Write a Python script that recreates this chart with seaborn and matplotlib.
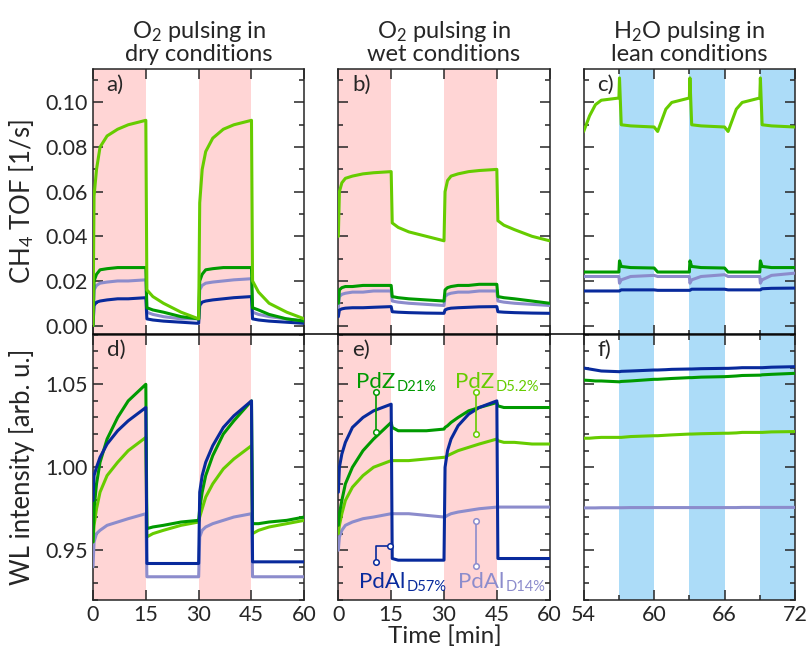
import matplotlib
matplotlib.use("Agg")
import matplotlib.pyplot as plt
from matplotlib.lines import Line2D
from matplotlib.ticker import MultipleLocator
import seaborn as sns

# time knots [min] of the O2 pulsing runs (panels a, b, d, e)
t_o2 = [0, 0.3, 1, 2, 4, 7, 10, 15, 15.3, 17, 20, 25, 30,
        30.3, 31, 32, 34, 37, 40, 45, 45.3, 47, 50, 55, 60]
# time knots [min] of the H2O pulsing run (panels c, f)
t_h2o = [54, 54.5, 55, 55.5, 57, 57.05, 57.2, 58, 60, 60.3, 61, 61.5, 63,
         63.05, 63.2, 64, 66, 66.3, 67, 67.5, 69, 69.05, 69.2, 70, 72]

o2_pulses = [(0, 15), (30, 45)]
h2o_pulses = [(57, 60), (63, 66), (69, 72)]

# --- CH4 TOF [1/s], O2 pulsing dry (a)
tof_dry_pdz52 = [0.000, 0.058, 0.070, 0.080, 0.085, 0.088, 0.090, 0.092, 0.016, 0.013, 0.010, 0.006, 0.003,
                 0.055, 0.070, 0.078, 0.084, 0.088, 0.090, 0.092, 0.020, 0.015, 0.010, 0.006, 0.003]
tof_dry_pdz21 = [0.000, 0.020, 0.023, 0.025, 0.0255, 0.026, 0.026, 0.026, 0.008, 0.007, 0.006, 0.004, 0.003,
                 0.020, 0.023, 0.025, 0.0255, 0.026, 0.026, 0.026, 0.008, 0.007, 0.005, 0.003, 0.002]
tof_dry_pdal14 = [0.000, 0.016, 0.018, 0.019, 0.0195, 0.020, 0.020, 0.0205, 0.006, 0.005, 0.004, 0.003, 0.003,
                  0.016, 0.018, 0.019, 0.0195, 0.020, 0.0205, 0.021, 0.006, 0.005, 0.004, 0.003, 0.002]
tof_dry_pdal57 = [0.000, 0.009, 0.0105, 0.011, 0.0115, 0.012, 0.012, 0.0125, 0.003, 0.0025, 0.002, 0.0015, 0.001,
                  0.009, 0.0105, 0.011, 0.0115, 0.012, 0.0125, 0.013, 0.003, 0.0025, 0.002, 0.0015, 0.001]

# --- CH4 TOF [1/s], O2 pulsing wet (b)
tof_wet_pdz52 = [0.040, 0.060, 0.064, 0.066, 0.067, 0.068, 0.0685, 0.069, 0.046, 0.044, 0.042, 0.040, 0.038,
                 0.060, 0.065, 0.067, 0.068, 0.069, 0.0695, 0.070, 0.047, 0.045, 0.043, 0.040, 0.038]
tof_wet_pdz21 = [0.010, 0.016, 0.017, 0.0175, 0.0175, 0.018, 0.018, 0.018, 0.013, 0.0125, 0.012, 0.0115, 0.011,
                 0.016, 0.017, 0.0175, 0.018, 0.018, 0.0185, 0.0185, 0.013, 0.0125, 0.012, 0.011, 0.010]
tof_wet_pdal14 = [0.008, 0.013, 0.014, 0.0145, 0.015, 0.015, 0.0155, 0.0155, 0.011, 0.0105, 0.010, 0.0095, 0.009,
                  0.013, 0.014, 0.0145, 0.015, 0.015, 0.0155, 0.0155, 0.011, 0.0105, 0.010, 0.0095, 0.009]
tof_wet_pdal57 = [0.004, 0.007, 0.0075, 0.0078, 0.008, 0.008, 0.0082, 0.0085, 0.0062, 0.006, 0.0058, 0.0056, 0.0055,
                  0.007, 0.0075, 0.0078, 0.008, 0.0082, 0.0084, 0.0085, 0.0062, 0.006, 0.0058, 0.0056, 0.0055]

# --- CH4 TOF [1/s], H2O pulsing lean (c)
tof_lean_pdz52 = [0.087, 0.094, 0.099, 0.101, 0.102, 0.111, 0.090, 0.0895, 0.089, 0.087, 0.097, 0.100, 0.102,
                  0.111, 0.090, 0.0895, 0.089, 0.087, 0.097, 0.100, 0.102, 0.111, 0.090, 0.0895, 0.089]
tof_lean_pdz21 = [0.024, 0.024, 0.024, 0.024, 0.024, 0.029, 0.0265, 0.026, 0.0258, 0.024, 0.024, 0.024, 0.024,
                  0.029, 0.0265, 0.026, 0.0258, 0.024, 0.024, 0.024, 0.024, 0.029, 0.0265, 0.026, 0.026]
tof_lean_pdal14 = [0.022, 0.022, 0.022, 0.022, 0.022, 0.019, 0.0205, 0.022, 0.0225, 0.022, 0.022, 0.022, 0.022,
                   0.019, 0.0205, 0.022, 0.0228, 0.022, 0.022, 0.022, 0.022, 0.019, 0.0205, 0.0225, 0.0235]
tof_lean_pdal57 = [0.0155, 0.0155, 0.0155, 0.0155, 0.0155, 0.0155, 0.016, 0.016, 0.016, 0.0158, 0.0158, 0.0158, 0.0158,
                   0.0158, 0.0163, 0.0163, 0.0163, 0.016, 0.016, 0.016, 0.016, 0.016, 0.0165, 0.0167, 0.0168]

# --- WL intensity [arb. u.], O2 pulsing dry (d)
wl_dry_pdz52 = [0.955, 0.965, 0.975, 0.985, 0.995, 1.003, 1.010, 1.018, 0.958, 0.960, 0.962, 0.965, 0.967,
                0.970, 0.975, 0.982, 0.990, 0.999, 1.005, 1.013, 0.960, 0.962, 0.964, 0.966, 0.968]
wl_dry_pdz21 = [0.955, 0.975, 0.990, 1.003, 1.017, 1.030, 1.040, 1.050, 0.963, 0.964, 0.965, 0.967, 0.968,
                0.975, 0.985, 0.995, 1.007, 1.020, 1.028, 1.040, 0.966, 0.966, 0.967, 0.968, 0.970]
wl_dry_pdal57 = [0.980, 0.995, 1.000, 1.006, 1.014, 1.022, 1.028, 1.036, 0.942, 0.942, 0.942, 0.942, 0.942,
                 0.985, 0.995, 1.003, 1.013, 1.024, 1.031, 1.040, 0.943, 0.943, 0.943, 0.943, 0.943]
wl_dry_pdal14 = [0.940, 0.955, 0.960, 0.962, 0.965, 0.967, 0.969, 0.972, 0.934, 0.934, 0.934, 0.934, 0.934,
                 0.958, 0.962, 0.964, 0.966, 0.968, 0.970, 0.972, 0.934, 0.934, 0.934, 0.934, 0.934]

# --- WL intensity [arb. u.], O2 pulsing wet (e)
wl_wet_pdz52 = [0.960, 0.965, 0.972, 0.980, 0.988, 0.995, 1.000, 1.004, 1.004, 1.004, 1.004, 1.005, 1.006,
                1.006, 1.007, 1.008, 1.010, 1.012, 1.014, 1.017, 1.016, 1.015, 1.015, 1.014, 1.014]
wl_wet_pdz21 = [0.965, 0.972, 0.980, 0.990, 1.000, 1.010, 1.017, 1.027, 1.024, 1.022, 1.022, 1.022, 1.023,
                1.024, 1.025, 1.027, 1.030, 1.034, 1.036, 1.039, 1.037, 1.036, 1.036, 1.036, 1.036]
wl_wet_pdal57 = [0.985, 1.000, 1.008, 1.015, 1.024, 1.030, 1.034, 1.038, 0.945, 0.944, 0.944, 0.944, 0.944,
                 1.000, 1.010, 1.017, 1.025, 1.032, 1.036, 1.040, 0.945, 0.945, 0.945, 0.945, 0.945]
wl_wet_pdal14 = [0.950, 0.958, 0.962, 0.965, 0.967, 0.969, 0.970, 0.972, 0.972, 0.972, 0.972, 0.971, 0.970,
                 0.970, 0.971, 0.972, 0.973, 0.974, 0.975, 0.976, 0.976, 0.976, 0.976, 0.976, 0.976]

# --- WL intensity [arb. u.], H2O pulsing lean (f)
wl_lean_pdz52 = [1.0175, 1.0175, 1.0178, 1.018, 1.018, 1.018, 1.018, 1.0185, 1.019, 1.019, 1.0193, 1.0195, 1.020,
                 1.020, 1.020, 1.0202, 1.0205, 1.0205, 1.0207, 1.021, 1.021, 1.021, 1.021, 1.0213, 1.0215]
wl_lean_pdz21 = [1.0525, 1.0523, 1.052, 1.052, 1.0515, 1.0515, 1.0517, 1.052, 1.053, 1.053, 1.0533, 1.0535, 1.054,
                 1.054, 1.054, 1.0543, 1.0546, 1.0547, 1.055, 1.0553, 1.0555, 1.0555, 1.0557, 1.056, 1.0566]
wl_lean_pdal57 = [1.0598, 1.0592, 1.0586, 1.058, 1.0576, 1.0576, 1.0578, 1.058, 1.0586, 1.0586, 1.0588, 1.059, 1.0592,
                  1.0592, 1.0592, 1.0594, 1.0596, 1.0596, 1.0598, 1.06, 1.06, 1.06, 1.06, 1.0603, 1.0606]
wl_lean_pdal14 = [0.9755, 0.9755, 0.9755, 0.9756, 0.9756, 0.9756, 0.9756, 0.9757, 0.9757, 0.9757, 0.9757, 0.9757, 0.9757,
                  0.9757, 0.9757, 0.9757, 0.9757, 0.9757, 0.9757, 0.9758, 0.9758, 0.9758, 0.9758, 0.9758, 0.9758]

c_pdz52 = "#66cc00"
c_pdz21 = "#009a00"
c_pdal57 = "#082a9c"
c_pdal14 = "#8c8ccc"
c_o2 = "#ffd5d5"
c_h2o = "#acdcf8"

sns.set_theme(style="ticks")
plt.rcParams["font.family"] = ["Lato", "DejaVu Sans"]
plt.rcParams["mathtext.fontset"] = "custom"
plt.rcParams["mathtext.rm"] = "Lato"
plt.rcParams["mathtext.it"] = "Lato:italic"
plt.rcParams["axes.linewidth"] = 1.1

fig, axes = plt.subplots(2, 3, figsize=(8.1, 6.53), dpi=100, sharey="row",
                         gridspec_kw=dict(hspace=0, wspace=0.161))
fig.subplots_adjust(left=93 / 810, right=795 / 810, top=1 - 69 / 653, bottom=1 - 600 / 653)

panels = [
    (axes[0, 0], t_o2, [tof_dry_pdal14, tof_dry_pdal57, tof_dry_pdz21, tof_dry_pdz52], o2_pulses, c_o2, "a)"),
    (axes[0, 1], t_o2, [tof_wet_pdal14, tof_wet_pdal57, tof_wet_pdz21, tof_wet_pdz52], o2_pulses, c_o2, "b)"),
    (axes[0, 2], t_h2o, [tof_lean_pdal14, tof_lean_pdal57, tof_lean_pdz21, tof_lean_pdz52], h2o_pulses, c_h2o, "c)"),
    (axes[1, 0], t_o2, [wl_dry_pdal14, wl_dry_pdz52, wl_dry_pdz21, wl_dry_pdal57], o2_pulses, c_o2, "d)"),
    (axes[1, 1], t_o2, [wl_wet_pdal14, wl_wet_pdz52, wl_wet_pdz21, wl_wet_pdal57], o2_pulses, c_o2, "e)"),
    (axes[1, 2], t_h2o, [wl_lean_pdal14, wl_lean_pdz52, wl_lean_pdz21, wl_lean_pdal57], h2o_pulses, c_h2o, "f)"),
]
colors = {id(s): c for group, c in [
    ([tof_dry_pdz52, tof_wet_pdz52, tof_lean_pdz52, wl_dry_pdz52, wl_wet_pdz52, wl_lean_pdz52], c_pdz52),
    ([tof_dry_pdz21, tof_wet_pdz21, tof_lean_pdz21, wl_dry_pdz21, wl_wet_pdz21, wl_lean_pdz21], c_pdz21),
    ([tof_dry_pdal57, tof_wet_pdal57, tof_lean_pdal57, wl_dry_pdal57, wl_wet_pdal57, wl_lean_pdal57], c_pdal57),
    ([tof_dry_pdal14, tof_wet_pdal14, tof_lean_pdal14, wl_dry_pdal14, wl_wet_pdal14, wl_lean_pdal14], c_pdal14),
] for s in group}

for ax, t, series, pulses, shade, tag in panels:
    for a, b in pulses:
        ax.axvspan(a, b, color=shade, lw=0, zorder=0)
    for s in series:
        sns.lineplot(x=t, y=s, ax=ax, color=colors[id(s)], linewidth=2.2,
                     sort=False, estimator=None, zorder=3)
    ax.text(0.065, 0.978, tag, transform=ax.transAxes, ha="left", va="top", fontsize=16)
    ax.tick_params(which="both", direction="in", top=True, right=True, width=1.1, labelsize=15.5)
    ax.tick_params(which="major", length=7)
    ax.tick_params(which="minor", length=3.5)
    ax.set_xlabel("")
    ax.set_ylabel("")

for ax in axes[:, :2].ravel():
    ax.set_xlim(0, 60)
    ax.set_xticks([0, 15, 30, 45, 60])
for ax in axes[:, 2]:
    ax.set_xlim(54, 72)
    ax.set_xticks([54, 60, 66, 72])
    ax.xaxis.set_minor_locator(MultipleLocator(3))
for ax in axes[0]:
    ax.set_ylim(-0.004, 0.115)
    ax.tick_params(labelbottom=False)
axes[0, 0].set_yticks([0.00, 0.02, 0.04, 0.06, 0.08, 0.10])
axes[0, 0].set_yticklabels(["0.00", "0.02", "0.04", "0.06", "0.08", "0.10"])
axes[0, 0].yaxis.set_minor_locator(MultipleLocator(0.01))
for ax in axes[1]:
    ax.set_ylim(0.92, 1.08)
axes[1, 0].set_yticks([0.95, 1.00, 1.05])
axes[1, 0].set_yticklabels(["0.95", "1.00", "1.05"])
axes[1, 0].yaxis.set_minor_locator(MultipleLocator(0.01))

titles = ["O$_2$ pulsing in\ndry conditions", "O$_2$ pulsing in\nwet conditions", "H$_2$O pulsing in\nlean conditions"]
for ax, title in zip(axes[0], titles):
    ax.set_title(title, fontsize=17, pad=6, linespacing=1.0)

fig.text(22 / 810, 1 - 201.5 / 653, "CH$_4$ TOF [1/s]", rotation=90, ha="center", va="center", fontsize=18.5)
fig.text(22 / 810, 1 - 467 / 653, "WL intensity [arb. u.]", rotation=90, ha="center", va="center", fontsize=18.5)
fig.text(444.5 / 810, 1 - 636 / 653, "Time [min]", ha="center", va="center", fontsize=17.5)

# row separator running through the column gaps
fig.add_artist(Line2D([93 / 810, 795 / 810], [1 - 334 / 653, 1 - 334 / 653], color="black", lw=1.1))

# sample labels in panel e (name + small subscript)
ax = axes[1, 1]
labels = [
    (5.1, 1.0478, "PdZ", "D21%", c_pdz21),
    (33.2, 1.0478, "PdZ", "D5.2%", c_pdz52),
    (6.0, 0.9274, "PdAl", "D57%", c_pdal57),
    (34.1, 0.9274, "PdAl", "D14%", c_pdal14),
]
for x, y, name, sub, c in labels:
    main = ax.text(x, y, name, color=c, fontsize=16, ha="left", va="baseline", zorder=5)
    ax.annotate(sub, xy=(1, 0), xycoords=main, xytext=(0.5, -1.5), textcoords="offset points",
                color=c, fontsize=10.5, ha="left", va="bottom", zorder=5)
leaders = [
    ([10.8, 10.8], [1.0454, 1.0213], c_pdz21),
    ([38.95, 38.95], [1.0454, 1.0201], c_pdz52),
    ([38.95, 38.95], [0.9679, 0.9402], c_pdal14),
]
for xs, ys, c in leaders:
    ax.plot(xs, ys, color=c, lw=1.2, marker="o", ms=4, mfc="white", mec=c, mew=1.1, zorder=5)
ax.plot([10.8, 10.8, 14.8], [0.9426, 0.9528, 0.9528], color=c_pdal57, lw=1.2, zorder=5)
ax.plot([10.8, 14.8], [0.9426, 0.9528], ls="none", marker="o", ms=4, mfc="white",
        mec=c_pdal57, mew=1.1, zorder=5)

fig.savefig("out.png", dpi=100)
